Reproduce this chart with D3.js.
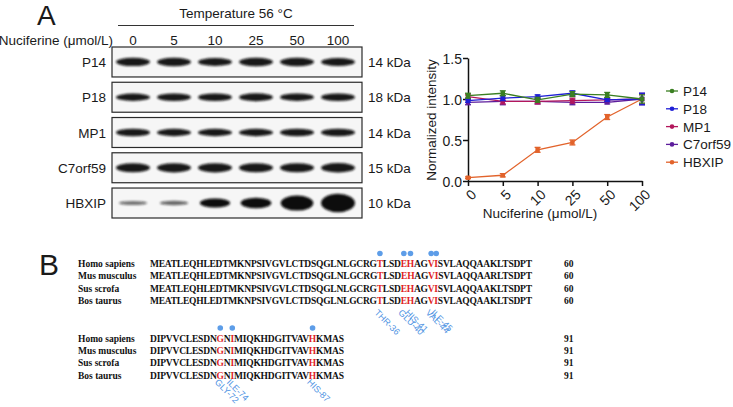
<!DOCTYPE html>
<html>
<head>
<meta charset="utf-8">
<script src="https://cdn.jsdelivr.net/npm/d3@7"></script>
<style>
  body { margin: 0; background: #fff; }
  svg { display: block; }
  text { font-family: Arial, "Liberation Sans", sans-serif; fill: #1a1a1a; }
  .seq text { font-family: "Liberation Serif", "Times New Roman", serif; font-weight: bold; font-size: 9.5px; fill: #111; }
</style>
</head>
<body>
<div class="fig"></div>
<script>
// doses and proteins
const doses = ['0', '5', '10', '25', '50', '100'];
const proteins = ['P14', 'P18', 'MP1', 'C7orf59', 'HBXIP'];
const kdaLabels = ['14 kDa', '18 kDa', '14 kDa', '15 kDa', '10 kDa'];

// normalized intensity, mean
const p14 = [1.04, 1.07, 0.99, 1.06, 1.05, 1.00];
const p18 = [0.98, 1.01, 1.03, 1.07, 0.99, 1.00];
const mp1 = [1.03, 0.97, 0.97, 0.98, 0.99, 1.00];
const c7orf59 = [0.96, 0.97, 0.97, 0.96, 0.96, 1.00];
const hbxip = [0.04, 0.07, 0.38, 0.47, 0.78, 1.00];

// error (sd)
const p14Err = [0.03, 0.03, 0.03, 0.03, 0.03, 0.05];
const p18Err = [0.02, 0.03, 0.02, 0.03, 0.02, 0.07];
const mp1Err = [0.02, 0.03, 0.03, 0.03, 0.02, 0.06];
const c7orf59Err = [0.03, 0.04, 0.03, 0.03, 0.02, 0.07];
const hbxipErr = [0.01, 0.02, 0.03, 0.03, 0.03, 0.00];

const yTicks = [0, 0.5, 1.0, 1.5];

// alignment
const species = ['Homo sapiens', 'Mus musculus', 'Sus scrofa', 'Bos taurus'];
const block1 = [
  'MEATLEQHLEDTMKNPSIVGVLCTDSQGLNLGCRGTLSDEHAGVISVLAQQAAKLTSDPT',
  'MEATLEQHLEDTMKNPSIVGVLCTDSQGLNLGCRGTLSDEHAGVISVLAQQAARLTSDPT',
  'MEATLEQHLEDTMKNPSIVGVLCTDSQGLNLGCRGTLSDEHAGVISVLAQQAAKLTSDPT',
  'MEATLEQHLEDTMKNPSIVGVLCTDSQGLNLGCRGTLSDEHAGVISVLAQQAAKLTSDPT',
];
const block2 = [
  'DIPVVCLESDNGNIMIQKHDGITVAVHKMAS',
  'DIPVVCLESDNGNIMIQKHDGITVAVHKMAS',
  'DIPVVCLESDNGNIMIQKHDGITVAVHKMAS',
  'DIPVVCLESDNGNIMIQKHDGITVAVHKMAS',
];
const blockEnds = ['60', '91'];
const siteNames = ['THR-36', 'GLU-40', 'HIS-41', 'VAL-44', 'ILE-45', 'GLY-72', 'ILE-74', 'HIS-87'];
const sitePos = [36, 40, 41, 44, 45, 72, 74, 87];

const series = [
  { name: 'P14', values: p14, err: p14Err, color: '#3b7f22' },
  { name: 'P18', values: p18, err: p18Err, color: '#1f1fd6' },
  { name: 'MP1', values: mp1, err: mp1Err, color: '#b3175c' },
  { name: 'C7orf59', values: c7orf59, err: c7orf59Err, color: '#5d1d9c' },
  { name: 'HBXIP', values: hbxip, err: hbxipErr, color: '#e2632b' },
];

const svg = d3.select('.fig').append('svg')
  .attr('width', 733)
  .attr('height', 407);

// blur for blot bands
const defs = svg.append('defs');
defs.append('filter').attr('id', 'blur')
  .attr('x', '-30%').attr('y', '-100%').attr('width', '160%').attr('height', '300%')
  .append('feGaussianBlur').attr('stdDeviation', 1.3);

// panel letters
svg.append('text').attr('x', 37).attr('y', 25).style('font-size', '28px').text('A');
svg.append('text').attr('x', 39).attr('y', 275).style('font-size', '30px').text('B');

// ---------- western blot ----------
const lane = d3.scalePoint().domain(doses).range([133, 338]);
const rowTop = d3.scaleBand().domain(proteins).range([47, 218]).paddingInner(0.15);

svg.append('text').attr('x', 236).attr('y', 18)
  .attr('text-anchor', 'middle').style('font-size', '13.5px')
  .text('Temperature 56 °C');
svg.append('line').attr('x1', 118).attr('x2', 354).attr('y1', 25.5).attr('y2', 25.5)
  .attr('stroke', '#333').attr('stroke-width', 1.2);
svg.append('text').attr('x', 113).attr('y', 45)
  .attr('text-anchor', 'end').style('font-size', '13.5px')
  .text('Nuciferine (μmol/L)');
svg.selectAll('.lane-lab').data(doses).enter().append('text')
  .attr('x', (d) => lane(d)).attr('y', 45)
  .attr('text-anchor', 'middle').style('font-size', '13.5px')
  .text((d) => d);

// band thickness at normalized 1 for each blot
const bandBase = { P14: 7, P18: 6.5, MP1: 6.5, C7orf59: 8.5, HBXIP: 15 };
const bandH = (name, d) => name === 'HBXIP' ? 2.5 + bandBase.HBXIP * d : bandBase[name] * d;

series.forEach((s, i) => {
  const top = rowTop(s.name);
  const h = rowTop.bandwidth();
  const cy = top + h / 2;
  const g = svg.append('g');
  g.append('rect').attr('x', 112).attr('y', top).attr('width', 250).attr('height', h)
    .attr('fill', '#f6f6f6').attr('stroke', '#2a2a2a').attr('stroke-width', 1.2);
  g.selectAll('.band').data(s.values).enter().append('ellipse')
    .attr('filter', 'url(#blur)')
    .attr('cx', (d, j) => lane(doses[j]))
    .attr('rx', (d) => s.name === 'HBXIP' ? 14 + 3 * d : 17)
    .attr('cy', cy)
    .attr('ry', (d) => bandH(s.name, d) / 2 + 0.5)
    .attr('fill', '#0d0d0d')
    .attr('opacity', (d) => s.name === 'HBXIP' ? Math.min(1, 0.5 + d * 1.5) : 0.95);
  svg.append('text').attr('x', 106).attr('y', cy + 5)
    .attr('text-anchor', 'end').style('font-size', '13.5px').text(s.name);
  svg.append('text').attr('x', 368).attr('y', cy + 5)
    .style('font-size', '13.5px').text(kdaLabels[i]);
});

// ---------- line chart ----------
const x = d3.scalePoint().domain(doses).range([468, 642]);
const y = d3.scaleLinear().domain([0, 1.5]).range([181, 58]);

const yAxis = svg.append('g').attr('transform', 'translate(468,0)')
  .call(d3.axisLeft(y).tickValues(yTicks).tickFormat(d3.format('.1f')).tickSize(5).tickSizeOuter(0));
const xAxis = svg.append('g').attr('transform', 'translate(0,181)')
  .call(d3.axisBottom(x).tickSize(5).tickSizeOuter(0));
[yAxis, xAxis].forEach((a) => {
  a.select('.domain').attr('stroke', '#111').attr('stroke-width', 1.5);
  a.selectAll('.tick line').attr('stroke', '#111').attr('stroke-width', 1.5);
  a.selectAll('.tick text').style('font-size', '14px').style('font-family', 'Arial, "Liberation Sans", sans-serif').attr('fill', '#1a1a1a');
});
yAxis.selectAll('.tick text').attr('x', -6).attr('dy', '0.36em');
xAxis.selectAll('.tick text')
  .attr('text-anchor', 'end')
  .attr('transform', 'rotate(-45)')
  .attr('x', -4).attr('y', 8).attr('dy', '0.6em');

svg.append('text').attr('x', 540).attr('y', 218)
  .attr('text-anchor', 'middle').style('font-size', '13.5px')
  .text('Nuciferine (μmol/L)');
svg.append('text')
  .attr('transform', 'translate(436,120) rotate(-90)')
  .attr('text-anchor', 'middle').style('font-size', '13.5px')
  .text('Normalized intensity');

const line = d3.line().x((d, j) => x(doses[j])).y((d) => y(d));

series.slice().reverse().forEach((s) => {
  const g = svg.append('g');
  g.append('path').datum(s.values)
    .attr('d', line).attr('fill', 'none')
    .attr('stroke', s.color).attr('stroke-width', 1.3);
  s.values.forEach((v, j) => {
    const cx = x(doses[j]);
    const e = s.err[j];
    if (e > 0) {
      g.append('line').attr('x1', cx).attr('x2', cx).attr('y1', y(v - e)).attr('y2', y(v + e))
        .attr('stroke', s.color).attr('stroke-width', 1.3);
      [v - e, v + e].forEach((c) => {
        g.append('line').attr('x1', cx - 3).attr('x2', cx + 3).attr('y1', y(c)).attr('y2', y(c))
          .attr('stroke', s.color).attr('stroke-width', 1.3);
      });
    }
    g.append('rect').attr('x', cx - 2.2).attr('y', y(v) - 2.2).attr('width', 4.4).attr('height', 4.4)
      .attr('fill', s.color);
  });
});

// legend
const legend = svg.append('g');
series.forEach((s, i) => {
  const ly = 91 + i * 17.8;
  legend.append('line').attr('x1', 666).attr('x2', 678).attr('y1', ly).attr('y2', ly)
    .attr('stroke', s.color).attr('stroke-width', 1.3);
  legend.append('circle').attr('cx', 672).attr('cy', ly).attr('r', 2.3).attr('fill', s.color);
  legend.append('text').attr('x', 683).attr('y', ly + 5)
    .style('font-size', '13.5px').text(s.name);
});

// ---------- alignment ----------
const seq = svg.append('g').attr('class', 'seq');
const blocks = [
  { rows: block1, start: 1, base: 267, width: 382, labelGap: 9 },
  { rows: block2, start: 61, base: 341.5, width: 194, labelGap: 4 },
];
const rowStep = 12.45;

blocks.forEach((b, bi) => {
  let firstText = null;
  b.rows.forEach((s, r) => {
    const by = b.base + r * rowStep;
    seq.append('text').attr('x', 78).attr('y', by).text(species[r]);
    seq.append('text').attr('x', 564).attr('y', by).text(blockEnds[bi]);
    const t = seq.append('text').attr('x', 150).attr('y', by)
      .attr('textLength', b.width).attr('lengthAdjust', 'spacing');
    // split into runs, red where a site is
    let run = '';
    let runRed = false;
    const flush = () => {
      if (run) t.append('tspan').style('fill', runRed ? '#e01f1f' : '#111').text(run);
      run = '';
    };
    for (let k = 0; k < s.length; k++) {
      const red = sitePos.includes(b.start + k);
      if (red !== runRed) { flush(); runRed = red; }
      run += s[k];
    }
    flush();
    if (r === 0) firstText = t;
  });

  // dots and site labels
  const lastY = b.base + 3 * rowStep;
  sitePos.forEach((p, si) => {
    const k = p - b.start;
    if (k < 0 || k >= b.rows[0].length) return;
    let cx = 150 + (k + 0.5) * b.width / b.rows[0].length;
    try {
      const n = firstText.node();
      cx = (n.getStartPositionOfChar(k).x + n.getEndPositionOfChar(k).x) / 2;
    } catch (err) { /* keep estimate */ }
    svg.append('circle').attr('cx', cx).attr('cy', b.base - 13.5).attr('r', 2.8).attr('fill', '#5d9de8');
    svg.append('text')
      .attr('transform', `translate(${cx - 6},${lastY + b.labelGap}) rotate(45)`)
      .style('font-size', '9px').style('fill', '#4f93e3')
      .text(siteNames[si]);
  });
});
</script>
</body>
</html>
